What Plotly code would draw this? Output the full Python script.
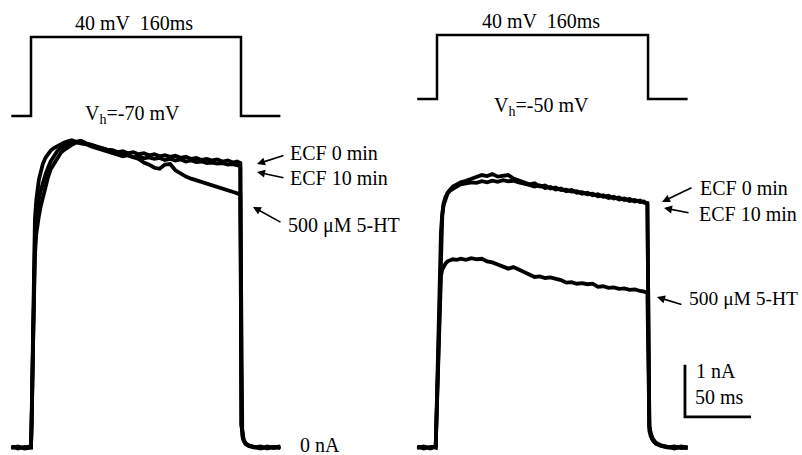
import plotly.graph_objects as go

W, H = 802, 455

# ---------------- data ----------------
# voltage protocol (ms, mV)
V_T = [-15, 0, 0, 160, 160, 190]
V_LEFT = [-70, -70, 40, 40, -70, -70]
V_RIGHT = [-50, -50, 40, 40, -50, -50]

# left panel (Vh = -70 mV), time in ms, current in nA
T_L = [-15, -10, -5, -1,
       0, 0.5, 1, 1.5, 2, 2.5, 3, 4, 5, 6, 7.5, 9, 11, 13, 15, 17.5, 20, 22.5, 25, 28, 31, 34,
       38, 42, 46, 50, 54, 58, 62, 66, 70, 74, 78, 82, 86, 90, 94, 98,
       102, 106, 110, 114, 118, 122, 126, 130, 134, 138, 142, 146, 150, 154, 157, 159.5,
       160.3, 161, 162, 163.5, 166, 170, 175, 180, 185, 190]
ECF0_L = [0.02, -0.02, 0.01, -0.01,
          0.0, 0.6, 1.5, 2.5, 3.4, 4.0, 4.4, 4.75, 4.98, 5.15, 5.3, 5.45, 5.57, 5.65, 5.71, 5.76, 5.8, 5.83, 5.86, 5.89, 5.91, 5.88,
          5.9, 5.85, 5.82, 5.78, 5.76, 5.73, 5.72, 5.68, 5.70, 5.66, 5.68, 5.64, 5.66, 5.62, 5.64, 5.60,
          5.62, 5.59, 5.61, 5.57, 5.59, 5.55, 5.57, 5.53, 5.55, 5.52, 5.54, 5.50, 5.52, 5.48, 5.50, 5.47,
          0.45, 0.25, 0.15, 0.08, 0.04, 0.01, -0.02, 0.02, -0.01, 0.01]
ECF10_L = [-0.01, 0.02, -0.02, 0.01,
           0.0, 0.5, 1.3, 2.2, 3.0, 3.6, 4.0, 4.4, 4.6, 4.78, 4.95, 5.1, 5.25, 5.38, 5.5, 5.6, 5.7, 5.76, 5.8, 5.84, 5.86, 5.88,
           5.85, 5.83, 5.79, 5.76, 5.72, 5.70, 5.66, 5.64, 5.60, 5.62, 5.58, 5.60, 5.56, 5.58, 5.55, 5.57,
           5.53, 5.55, 5.52, 5.54, 5.50, 5.52, 5.49, 5.50, 5.47, 5.48, 5.46, 5.47, 5.44, 5.45, 5.42, 5.41,
           0.42, 0.24, 0.14, 0.07, 0.03, 0.0, 0.02, -0.02, 0.01, -0.01]
HT_L = [0.0, 0.01, -0.01, 0.02,
        0.0, 0.4, 1.1, 1.9, 2.7, 3.3, 3.7, 4.1, 4.32, 4.45, 4.65, 4.82, 5.0, 5.2, 5.35, 5.46, 5.56, 5.66, 5.72, 5.78, 5.82, 5.86,
        5.87, 5.84, 5.82, 5.78, 5.75, 5.72, 5.70, 5.66, 5.65, 5.62, 5.58, 5.55, 5.48, 5.44, 5.38, 5.36,
        5.44, 5.45, 5.33, 5.26, 5.21, 5.17, 5.14, 5.10, 5.07, 5.04, 5.01, 4.98, 4.95, 4.92, 4.89, 4.86,
        0.38, 0.22, 0.13, 0.07, 0.03, 0.01, -0.01, 0.01, 0.0, 0.02]

# right panel (Vh = -50 mV)
T_R = [-15, -10, -5, -2, -1,
       0, 1, 2, 3, 4, 5, 6.5, 8, 10, 12, 15, 18, 22, 26, 30, 34,
       38, 42, 46, 50, 54, 58, 62, 66, 70, 74, 78, 82, 86, 90, 94, 98,
       102, 106, 110, 114, 118, 122, 126, 130, 134, 138, 142, 146, 150, 154, 157, 159.5,
       160.3, 161, 162, 163.5, 166, 170, 175, 180, 185, 190]
ECF0_R = [0.02, -0.02, 0.01, -0.01, 0.0,
          1.0, 2.3, 3.3, 4.15, 4.5, 4.7, 4.82, 4.9, 4.96, 5.02, 5.06, 5.10, 5.13, 5.17, 5.21, 5.24,
          5.22, 5.26, 5.21, 5.23, 5.24, 5.17, 5.13, 5.10, 5.06, 5.08, 5.02, 5.04, 4.98, 5.0, 4.95, 4.96,
          4.92, 4.93, 4.88, 4.90, 4.85, 4.87, 4.82, 4.84, 4.79, 4.81, 4.76, 4.78, 4.73, 4.75, 4.71, 4.70,
          0.7, 0.42, 0.28, 0.17, 0.09, 0.04, 0.01, -0.02, 0.01, -0.01]
ECF10_R = [-0.01, 0.02, -0.02, 0.01, 0.0,
           0.9, 2.2, 3.2, 4.05, 4.45, 4.66, 4.8, 4.88, 4.94, 4.98, 5.02, 5.06, 5.08, 5.10, 5.09, 5.12,
           5.10, 5.13, 5.11, 5.14, 5.12, 5.13, 5.10, 5.08, 5.05, 5.02, 5.04, 4.99, 5.01, 4.96, 4.98, 4.93,
           4.95, 4.90, 4.91, 4.87, 4.88, 4.83, 4.85, 4.80, 4.82, 4.77, 4.79, 4.74, 4.76, 4.72, 4.73, 4.68,
           0.65, 0.4, 0.26, 0.16, 0.08, 0.03, 0.0, 0.02, -0.01, 0.0]
HT_R = [0.0, 0.01, -0.01, 0.02, 0.0,
        0.9, 2.0, 2.9, 3.3, 3.42, 3.48, 3.54, 3.58, 3.6, 3.62, 3.61, 3.63, 3.61, 3.64, 3.62, 3.63,
        3.58, 3.56, 3.52, 3.48, 3.44, 3.47, 3.42, 3.38, 3.32, 3.28, 3.29, 3.26, 3.27, 3.24, 3.22, 3.17,
        3.18, 3.15, 3.16, 3.14, 3.15, 3.09, 3.10, 3.07, 3.08, 3.05, 3.06, 3.03, 3.04, 3.01, 3.0, 2.97,
        0.5, 0.32, 0.22, 0.14, 0.07, 0.03, 0.01, -0.01, 0.02, 0.0]

# scale bar (right panel axes): 50 ms x 1 nA
SCALE_MS = 50
SCALE_NA = 1
SCALE_T0 = 188
SCALE_I0 = 0.59

for a in (ECF0_L, ECF10_L, HT_L):
    assert len(a) == len(T_L), len(a)
for a in (ECF0_R, ECF10_R, HT_R):
    assert len(a) == len(T_R), len(a)

# ---------------- figure ----------------
BLACK = "#000000"
FONT = "Liberation Serif"
FS = 20
fig = go.Figure()

def line(x, y, xa, ya, w):
    fig.add_trace(go.Scatter(x=x, y=y, xaxis=xa, yaxis=ya, mode="lines",
                             line=dict(color=BLACK, width=w), hoverinfo="skip"))

# voltage steps
line(V_T, V_LEFT, "x", "y2", 2.5)
line(V_T, V_RIGHT, "x2", "y3", 2.5)
# currents
for arr in (HT_L, ECF10_L, ECF0_L):
    line(T_L, arr, "x", "y", 3.8)
for arr in (HT_R, ECF10_R, ECF0_R):
    line(T_R, arr, "x2", "y", 3.8)
# scale bar
line([SCALE_T0, SCALE_T0, SCALE_T0 + SCALE_MS],
     [SCALE_I0 + SCALE_NA, SCALE_I0, SCALE_I0], "x2", "y", 2.8)

def px(x):
    return x / W

def py(y):
    return 1 - y / H

ann = []
def text(s, x, y, anchor="left", size=FS):
    ann.append(dict(text=s, x=px(x), y=py(y), xref="paper", yref="paper",
                    xanchor=anchor, yanchor="middle", showarrow=False, borderpad=0,
                    font=dict(family=FONT, size=size, color=BLACK)))

def arrow(x0, y0, x1, y1):
    # arrow from tail (x0,y0) to head (x1,y1), in pixels
    ann.append(dict(text="", x=px(x1), y=py(y1), xref="paper", yref="paper",
                    ax=x0 - x1, ay=y0 - y1, axref="pixel", ayref="pixel",
                    showarrow=True, arrowhead=2, arrowsize=1, arrowwidth=1.6,
                    arrowcolor=BLACK))

text("40 mV  160ms", 134, 23, "center")
text("40 mV  160ms", 541, 21, "center")
text("V<sub>h</sub>=-70 mV", 132, 114, "center")
text("V<sub>h</sub>=-50 mV", 541, 106, "center")
text("ECF 0 min", 289, 153)
text("ECF 10 min", 289, 178)
text("500 \u03bcM 5-HT", 287, 225)
text("0 nA", 299, 445)
text("ECF 0 min", 699, 188)
text("ECF 10 min", 698, 214)
text("500 \u03bcM 5-HT", 799, 298, "right", 19.5)
text("1 nA", 695, 371)
text("50 ms", 694, 397)

arrow(285, 155, 257, 164)
arrow(285, 178, 257, 172)
arrow(282, 223, 253, 207)
arrow(693, 187, 662, 202)
arrow(690, 213, 664, 208)
arrow(683, 305, 657, 297)

ax_common = dict(visible=False, showgrid=False, zeroline=False, fixedrange=True)
fig.update_layout(
    width=W, height=H,
    margin=dict(l=0, r=0, t=0, b=0),
    paper_bgcolor="white", plot_bgcolor="white",
    showlegend=False,
    xaxis=dict(range=[-31 / 1.3125, (W - 31) / 1.3125], domain=[0, 1], **ax_common),
    xaxis2=dict(range=[-437 / 1.319, (W - 437) / 1.319], domain=[0, 1],
                overlaying="x", anchor="y", **ax_common),
    yaxis=dict(range=[(447.5 - H) / 52, 447.5 / 52], domain=[0, 1], **ax_common),
    yaxis2=dict(range=[40 - (H - 37) / 0.718, 40 + 37 / 0.718], overlaying="y",
                anchor="x", **ax_common),
    yaxis3=dict(range=[40 - (H - 35) / 0.711, 40 + 35 / 0.711], overlaying="y",
                anchor="x", **ax_common),
    annotations=ann,
)

fig.write_html("out.html")
